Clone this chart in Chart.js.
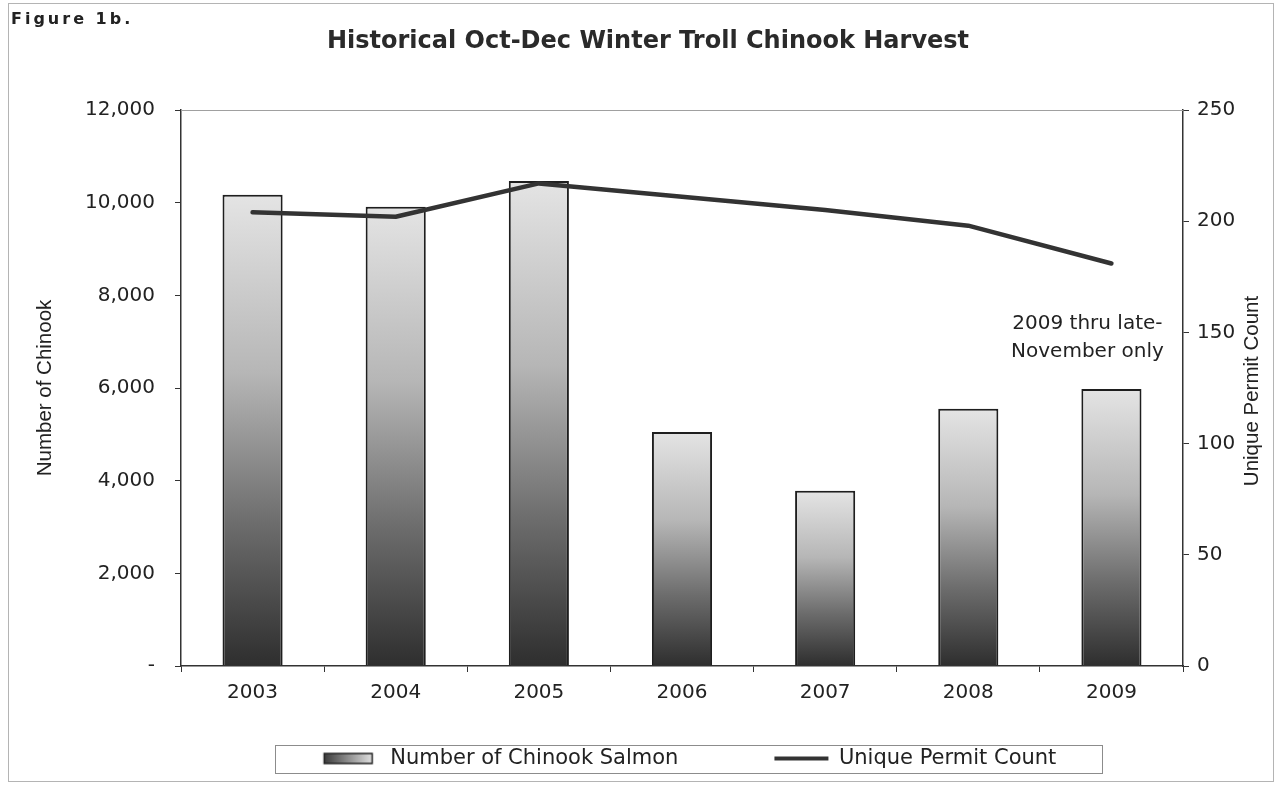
<!DOCTYPE html>
<html>
<head>
<meta charset="utf-8">
<script src="https://cdn.jsdelivr.net/npm/chart.js@4.4.1/dist/chart.umd.min.js"></script>
<style>
html, body { margin: 0; padding: 0; background: #fff; }
#wrap { position: relative; width: 1276px; height: 787px; overflow: hidden; background: #fff; }
#frame { position: absolute; left: 8px; top: 3px; width: 1264px; height: 777px; border: 1px solid #b4b4b4; pointer-events: none; }
#fig { position: absolute; left: 11px; top: 9px; font: bold 16px 'DejaVu Sans', sans-serif; letter-spacing: 3px; color: #222; }
canvas { position: absolute; left: 0; top: 0; }
</style>
</head>
<body>
<div id="wrap">
  <canvas id="c" width="1276" height="787"></canvas>
  <div id="frame"></div>
  <div id="fig">Figure 1b.</div>
</div>
<script>
// ---- data ----
const categories = ['2003', '2004', '2005', '2006', '2007', '2008', '2009'];
const chinookCounts = [10170, 9910, 10470, 5050, 3780, 5550, 5980];
const permitCounts = [204, 202, 217, 211, 205, 198, 181];
const leftAxisMax = 12000;
const leftAxisStep = 2000;
const rightAxisMax = 250;
const rightAxisStep = 50;
const chartTitle = 'Historical Oct-Dec Winter Troll Chinook Harvest';
const leftAxisTitle = 'Number of Chinook';
const rightAxisTitle = 'Unique Permit Count';
const seriesNames = ['Number of Chinook Salmon', 'Unique Permit Count'];
const noteLines = ['2009 thru late-', 'November only'];

// ---- styling helpers ----
const TICK_FONT = { family: "'DejaVu Sans', sans-serif", size: 20 };
const INK = '#222';

function barFill(ctx) {
  const chart = ctx.chart;
  const y = chart.scales && chart.scales.y;
  if (!chart.chartArea || !y || ctx.type !== 'data') return '#9a9a9a';
  const top = y.getPixelForValue(ctx.raw);
  const bottom = y.getPixelForValue(0);
  if (!isFinite(top) || !isFinite(bottom) || top === bottom) return '#9a9a9a';
  const g = chart.ctx.createLinearGradient(0, bottom, 0, top);
  g.addColorStop(0, '#2e2e2e');
  g.addColorStop(0.3, '#6c6c6c');
  g.addColorStop(0.62, '#b6b6b6');
  g.addColorStop(1, '#e4e4e4');
  return g;
}

function makeBarSwatch() {
  const c = document.createElement('canvas');
  c.width = 140; c.height = 14;
  const g = c.getContext('2d');
  const grd = g.createLinearGradient(84, 0, 133, 0);
  grd.addColorStop(0, '#3a3a3a');
  grd.addColorStop(1, '#e2e2e2');
  g.fillStyle = grd;
  g.fillRect(84.5, 2, 48, 10);
  g.strokeStyle = '#222';
  g.lineWidth = 1.5;
  g.strokeRect(84.5, 2, 48, 10);
  return c;
}
function makeLineSwatch() {
  const c = document.createElement('canvas');
  c.width = 160; c.height = 8;
  const g = c.getContext('2d');
  g.strokeStyle = '#333';
  g.lineWidth = 4;
  g.beginPath();
  g.moveTo(96, 4);
  g.lineTo(150, 4);
  g.stroke();
  return c;
}
const barSwatch = makeBarSwatch();
const lineSwatch = makeLineSwatch();

const decor = {
  id: 'decor',
  afterDraw(chart) {
    const { ctx, chartArea: a, scales } = chart;
    ctx.save();
    // top edge of plot area
    ctx.strokeStyle = '#a0a0a0';
    ctx.lineWidth = 1;
    ctx.beginPath();
    ctx.moveTo(a.left, Math.round(a.top) + 0.5);
    ctx.lineTo(a.right, Math.round(a.top) + 0.5);
    ctx.stroke();

    // axis titles (both read bottom-to-top)
    ctx.fillStyle = INK;
    ctx.textAlign = 'center';
    ctx.textBaseline = 'middle';
    ctx.font = "20.5px 'Liberation Sans', Arial, sans-serif";
    const cy = (a.top + a.bottom) / 2;
    ctx.save();
    ctx.translate(a.left - 136, cy);
    ctx.rotate(-Math.PI / 2);
    ctx.fillText(leftAxisTitle, 0, 0);
    ctx.restore();
    ctx.save();
    ctx.translate(a.right + 69, cy + 3);
    ctx.rotate(-Math.PI / 2);
    ctx.fillText(rightAxisTitle, 0, 0);
    ctx.restore();

    // note near 2009
    ctx.font = "20px 'DejaVu Sans', sans-serif";
    const nx = scales.x.getPixelForValue(categories.length - 1) - 24;
    const ny = scales.y2.getPixelForValue(154);
    noteLines.forEach((t, i) => ctx.fillText(t, nx, ny + i * 28));

    // legend frame
    const hb = chart.legend && chart.legend.legendHitBoxes;
    if (hb && hb.length === 2) {
      const l = Math.round(hb[0].left + 35) + 0.5;
      const r = Math.round(hb[1].left + hb[1].width + 46) + 0.5;
      const cL = hb[0].top + hb[0].height / 2;
      const t = Math.round(cL - 14) + 0.5;
      ctx.strokeStyle = '#8c8c8c';
      ctx.lineWidth = 1;
      ctx.strokeRect(l, t, r - l, 28);
    }
    ctx.restore();
  }
};

new Chart(document.getElementById('c'), {
  type: 'bar',
  data: {
    labels: categories,
    datasets: [
      {
        label: seriesNames[0],
        data: chinookCounts,
        yAxisID: 'y',
        backgroundColor: barFill,
        borderColor: '#1e1e1e',
        borderWidth: 2,
        categoryPercentage: 1,
        barPercentage: 0.42,
        order: 1
      },
      {
        type: 'line',
        label: seriesNames[1],
        data: permitCounts,
        yAxisID: 'y2',
        borderColor: '#333',
        backgroundColor: '#333',
        borderWidth: 4.5,
        borderCapStyle: 'round',
        borderJoinStyle: 'round',
        tension: 0,
        pointRadius: 0,
        pointHoverRadius: 0,
        pointBorderWidth: 4,
        pointBorderColor: '#333',
        pointStyle: 'line',
        fill: false,
        order: -1
      }
    ]
  },
  options: {
    responsive: false,
    devicePixelRatio: 1,
    animation: false,
    events: [],
    layout: { padding: { left: 20, right: 0, top: 0, bottom: 8 } },
    plugins: {
      tooltip: { enabled: false },
      title: {
        display: true,
        text: chartTitle,
        color: '#2a2a2a',
        font: { family: "'DejaVu Sans', sans-serif", size: 24, weight: 'bold', lineHeight: 1.2 },
        padding: { top: 27, bottom: 54.2 }
      },
      legend: {
        position: 'bottom',
        fullSize: true,
        labels: {
          usePointStyle: true,
          pointStyleWidth: 140,
          boxHeight: 12,
          padding: 10,
          color: INK,
          font: { family: "'DejaVu Sans', sans-serif", size: 21 },
          generateLabels(chart) {
            const items = Chart.defaults.plugins.legend.labels.generateLabels(chart);
            items.sort((p, q) => p.datasetIndex - q.datasetIndex);
            items.forEach(it => {
              it.pointStyle = it.datasetIndex === 0 ? barSwatch : lineSwatch;
              it.fontColor = INK;
            });
            return items;
          }
        }
      }
    },
    scales: {
      x: {
        grid: { display: true, drawOnChartArea: false, drawTicks: true, tickLength: 6, color: '#333', offset: true },
        border: { display: true, color: '#333', width: 1.5 },
        ticks: { font: TICK_FONT, color: INK, padding: 9 },
        afterFit(s) { s.height = 72; }
      },
      y: {
        position: 'left',
        min: 0,
        max: leftAxisMax,
        grid: { display: true, drawOnChartArea: false, drawTicks: true, tickLength: 6, color: '#333' },
        border: { display: true, color: '#333', width: 1.5 },
        ticks: {
          stepSize: leftAxisStep,
          font: TICK_FONT,
          color: INK,
          padding: 20,
          callback: v => (v === 0 ? '-' : Number(v).toLocaleString('en-US'))
        },
        afterFit(s) { s.width = 161; }
      },
      y2: {
        position: 'right',
        min: 0,
        max: rightAxisMax,
        grid: { display: true, drawOnChartArea: false, drawTicks: true, tickLength: 6, color: '#333' },
        border: { display: true, color: '#333', width: 1.5 },
        ticks: { stepSize: rightAxisStep, font: TICK_FONT, color: INK, padding: 8 },
        afterFit(s) { s.width = 93; }
      }
    }
  },
  plugins: [decor]
});
</script>
</body>
</html>
